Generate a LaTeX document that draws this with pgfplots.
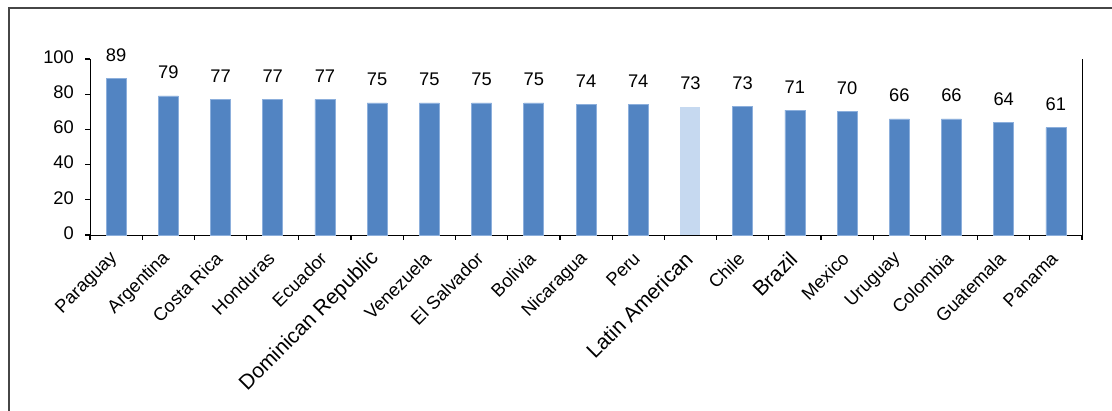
\documentclass[border=0pt]{standalone}
\usepackage{pgfplots}
\pgfplotsset{compat=1.18}
\usepackage{fontspec}
\setmainfont{Liberation Sans}
\definecolor{barblue}{RGB}{82,132,194}
\definecolor{baredge}{RGB}{140,175,220}
\definecolor{barlight}{RGB}{198,217,240}
\definecolor{framegray}{RGB}{70,70,70}
\newcommand{\lbl}{\fontsize{18.3bp}{20bp}\selectfont}
\newcommand{\biglbl}[1]{{\fontsize{21bp}{23bp}\selectfont #1}}

\begin{document}
\begin{tikzpicture}
\begin{axis}[
  at={(90bp,176bp)}, anchor=south west,
  scale only axis, width=992bp, height=176bp,
  xmin=-0.5, xmax=18.5, ymin=0, ymax=100,
  axis lines=left,
  axis line style={-, black, line width=0.8bp},
  tick style={black, line width=1.2bp},
  tick align=outside,
  major tick length=5bp,
  % boundary ticks between categories, names on untick'd centres
  xtick={-0.5,0.5,...,18.5},
  xticklabel={\mbox{}},
  extra x ticks={0,...,18},
  extra x tick style={major tick length=0bp},
  extra x tick labels={Paraguay,Argentina,Costa Rica,Honduras,Ecuador,\biglbl{Dominican Republic},Venezuela,El Salvador,Bolivia,Nicaragua,Peru,\biglbl{Latin American},Chile,\biglbl{Brazil},Mexico,Uruguay,Colombia,Guatemala,Panama},
  xticklabel shift=19bp,
  xticklabel style={rotate=45, anchor=east, font=\lbl, inner sep=2bp},
  ytick={0,20,...,100},
  yticklabel style={font=\lbl, anchor=east, inner sep=0bp, xshift=-11bp, yshift=2bp},
  /pgf/number format/assume math mode=true,
  nodes near coords,
  every node near coord/.append style={font=\lbl, black, anchor=south, inner sep=2bp, yshift=14.7bp},
  clip=false,
]
\addplot[ybar, bar width=20bp, fill=barblue, draw=baredge, line width=0.6bp] coordinates {
  (0,89) (1,79) (2,77) (3,77) (4,77) (5,75) (6,75) (7,75) (8,75) (9,74)
  (10,74) (12,73) (13,71) (14,70) (15,66) (16,66) (17,64) (18,61)
};
\addplot[ybar, bar width=20bp, fill=barlight, draw=none] coordinates {
  (11,73)
};
\draw[black, line width=0.8bp] (rel axis cs:1,0) -- (rel axis cs:1,1);
\end{axis}
\draw[framegray, line width=1.6bp] (9bp,-10bp) -- (9bp,402.7bp) -- (1130bp,402.7bp);
\pgfresetboundingbox
\useasboundingbox (0,0) rectangle (1112bp,411bp);
\end{tikzpicture}
\end{document}
